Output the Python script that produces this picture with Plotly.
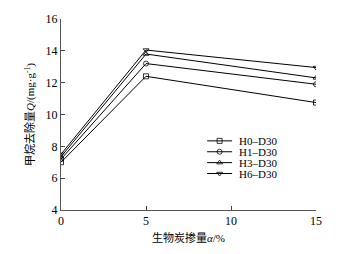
import plotly.graph_objects as go

x_vals = [0, 5, 15]
series_names = ["H0\u2013D30", "H1\u2013D30", "H3\u2013D30", "H6\u2013D30"]
h0 = [7.0, 12.4, 10.75]
h1 = [7.2, 13.2, 11.9]
h3 = [7.35, 13.8, 12.3]
h6 = [7.5, 14.05, 12.95]
symbols = ["square-open", "circle-open", "triangle-up-open", "triangle-down-open"]

font_family = "Liberation Serif, Times New Roman, Noto Sans CJK SC, serif"

fig = go.Figure()
for name, ys, sym in zip(series_names, [h0, h1, h3, h6], symbols):
    fig.add_trace(go.Scatter(
        x=x_vals, y=ys, name=name, mode="lines+markers", showlegend=False,
        line=dict(color="black", width=1),
        marker=dict(symbol=sym, size=5, color="black", line=dict(color="black", width=0.8)),
    ))

# compact legend drawn on an overlay axis (0..1 fraction of the plot area)
leg_x0, leg_x1, leg_text_x = 0.573, 0.671, 0.69
leg_top, leg_dy = 0.362, 0.057
for i, (name, sym) in enumerate(zip(series_names, symbols)):
    yy = leg_top - i * leg_dy
    fig.add_trace(go.Scatter(
        x=[leg_x0, leg_x1], y=[yy, yy], mode="lines", xaxis="x2", yaxis="y2",
        line=dict(color="black", width=1), showlegend=False, hoverinfo="skip"))
    fig.add_trace(go.Scatter(
        x=[(leg_x0 + leg_x1) / 2], y=[yy], mode="markers", xaxis="x2", yaxis="y2",
        marker=dict(symbol=sym, size=5, color="black", line=dict(color="black", width=0.8)),
        showlegend=False, hoverinfo="skip"))
    fig.add_annotation(x=leg_text_x, y=yy, xref="x2", yref="y2", text=name,
                       showarrow=False, xanchor="left", yanchor="middle",
                       font=dict(size=11, family=font_family, color="black"))

fig.update_layout(
    width=346, height=254,
    margin=dict(l=61, r=30, t=15, b=40),
    paper_bgcolor="white", plot_bgcolor="white",
    font=dict(family=font_family, size=11, color="black"),
    showlegend=False,
    xaxis=dict(range=[0, 15], tickvals=[0, 5, 10, 15], ticks="inside", ticklen=4,
               showline=True, linecolor="#555", linewidth=1, showgrid=False, zeroline=False,
               tickfont=dict(size=12),
               title=dict(text="生物炭掺量<i>α</i>/%", standoff=6, font=dict(size=11))),
    yaxis=dict(range=[4, 16], tickvals=[4, 6, 8, 10, 12, 14, 16], ticks="inside", ticklen=4,
               showline=True, linecolor="#555", linewidth=1, showgrid=False, zeroline=False,
               tickfont=dict(size=12),
               title=dict(text="甲烷去除量<i>Q</i>/(mg·g<sup>-1</sup>)", standoff=8, font=dict(size=11))),
    xaxis2=dict(range=[0, 1], overlaying="x", visible=False, anchor="y2"),
    yaxis2=dict(range=[0, 1], overlaying="y", visible=False, anchor="x2"),
)

fig.write_html("out.html")
